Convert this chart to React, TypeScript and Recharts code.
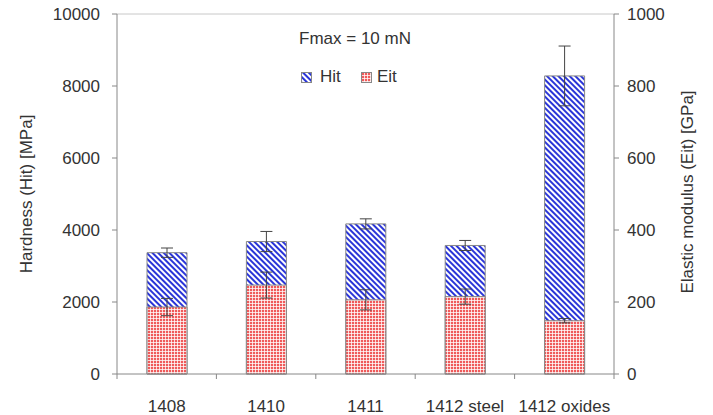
import { BarChart, Bar, XAxis, YAxis, Legend, ErrorBar, ReferenceLine } from "recharts";

const categories = ["1408", "1410", "1411", "1412 steel", "1412 oxides"];
const hitValues = [3370, 3680, 4170, 3570, 8280];
const hitErrors = [130, 280, 140, 140, 830];
const eitValues = [186, 247, 206, 215, 148];
const eitErrors = [24, 36, 28, 21, 6];
const hitTicks = [0, 2000, 4000, 6000, 8000, 10000];
const eitTicks = [0, 200, 400, 600, 800, 1000];

const data = categories.map((name, i) => ({
  name,
  hit: hitValues[i],
  hitErr: hitErrors[i],
  eit: eitValues[i],
  eitErr: eitErrors[i],
}));

const FONT = '"Liberation Sans", Arial, sans-serif';
const TEXT = "#333";
const AXIS = "#888";
const PLOT_BOTTOM = 374;
const HALF_BAND = 49.7;

function CategoryTick(props: any) {
  const { x, index, payload } = props;
  return (
    <g>
      <line x1={x - HALF_BAND} x2={x - HALF_BAND} y1={PLOT_BOTTOM} y2={PLOT_BOTTOM + 5} stroke={AXIS} />
      {index === categories.length - 1 && (
        <line x1={x + HALF_BAND} x2={x + HALF_BAND} y1={PLOT_BOTTOM} y2={PLOT_BOTTOM + 5} stroke={AXIS} />
      )}
      <text x={x} y={412} textAnchor="middle" fontSize={17} fill={TEXT} fontFamily={FONT}>
        {payload.value}
      </text>
    </g>
  );
}

function Swatch({ fill }: { fill: string }) {
  return (
    <svg width={11} height={11} style={{ display: "block" }}>
      <rect x={0.5} y={0.5} width={10} height={10} fill={fill} stroke={AXIS} />
    </svg>
  );
}

function LegendBox() {
  const item: React.CSSProperties = { position: "absolute", fontSize: 17, color: TEXT, lineHeight: "20px" };
  return (
    <div style={{ position: "relative", fontFamily: FONT }}>
      <div style={{ ...item, left: 255, top: 29, width: 200, textAlign: "center" }}>Fmax = 10 mN</div>
      <div style={{ position: "absolute", left: 301, top: 72 }}><Swatch fill="url(#hitHatch)" /></div>
      <div style={{ ...item, left: 320, top: 67 }}>Hit</div>
      <div style={{ position: "absolute", left: 361, top: 72 }}><Swatch fill="url(#eitGrid)" /></div>
      <div style={{ ...item, left: 377, top: 67 }}>Eit</div>
    </div>
  );
}

export default function App() {
  return (
    <div style={styles.page}>
      <svg width={0} height={0} style={{ position: "absolute" }}>
        <defs>
          <pattern id="hitHatch" patternUnits="userSpaceOnUse" width={4} height={4} patternTransform="rotate(-45)">
            <rect width={4} height={4} fill="#ffffff" />
            <rect width={2} height={4} fill="#2a35d8" />
          </pattern>
          <pattern id="eitGrid" patternUnits="userSpaceOnUse" width={3} height={3}>
            <rect width={3} height={3} fill="#ef5a5a" />
            <rect width={3} height={1} fill="#ffffff" opacity={0.75} />
            <rect width={1} height={3} fill="#ffffff" opacity={0.75} />
          </pattern>
        </defs>
      </svg>
      <BarChart
        width={713}
        height={415}
        data={data}
        margin={{ top: 14, right: 9, bottom: 6, left: 7 }}
        barGap={-40}
      >
        <XAxis
          dataKey="name"
          xAxisId={0}
          height={35}
          interval={0}
          axisLine={{ stroke: AXIS }}
          tickLine={false}
          tick={<CategoryTick />}
        />
        <YAxis
          yAxisId="left"
          orientation="left"
          width={110}
          domain={[0, 10000]}
          ticks={hitTicks}
          interval={0}
          tickSize={5}
          tickMargin={12}
          axisLine={{ stroke: AXIS }}
          tickLine={{ stroke: AXIS }}
          tick={{ fill: TEXT, fontSize: 17, fontFamily: FONT }}
          label={() => (
            <text x={26} y={194} transform="rotate(-90 26 194)" textAnchor="middle" dominantBaseline="central" fontSize={17} fill={TEXT} fontFamily={FONT}>
              Hardness (Hit) [MPa]
            </text>
          )}
        />
        <YAxis
          yAxisId="right"
          orientation="right"
          width={90}
          domain={[0, 1000]}
          ticks={eitTicks}
          interval={0}
          tickSize={5}
          tickMargin={8}
          axisLine={{ stroke: AXIS }}
          tickLine={{ stroke: AXIS }}
          tick={{ fill: TEXT, fontSize: 17, fontFamily: FONT }}
          label={() => (
            <text x={687} y={192} transform="rotate(-90 687 192)" textAnchor="middle" dominantBaseline="central" fontSize={17} fill={TEXT} fontFamily={FONT}>
              Elastic modulus (Eit) [GPa]
            </text>
          )}
        />
        <ReferenceLine yAxisId="left" y={10000} stroke="#c8c8c8" />
        <Legend layout="horizontal" verticalAlign="middle" align="center" wrapperStyle={{ left: 0, top: 0, width: 713, height: 0 }} content={() => <LegendBox />} />
        <Bar yAxisId="left" dataKey="hit" name="Hit" barSize={40} fill="url(#hitHatch)" stroke={AXIS} strokeWidth={1} isAnimationActive={false}>
          <ErrorBar dataKey="hitErr" width={6} stroke="#444" strokeWidth={1} direction="y" isAnimationActive={false} />
        </Bar>
        <Bar yAxisId="right" dataKey="eit" name="Eit" barSize={40} fill="url(#eitGrid)" stroke={AXIS} strokeWidth={1} isAnimationActive={false}>
          <ErrorBar dataKey="eitErr" width={6} stroke="#444" strokeWidth={1} direction="y" isAnimationActive={false} />
        </Bar>
      </BarChart>
    </div>
  );
}

const styles: Record<string, React.CSSProperties> = {
  page: { position: "absolute", left: 0, top: 0, width: 713, height: 415, background: "#fff", fontFamily: FONT },
};
